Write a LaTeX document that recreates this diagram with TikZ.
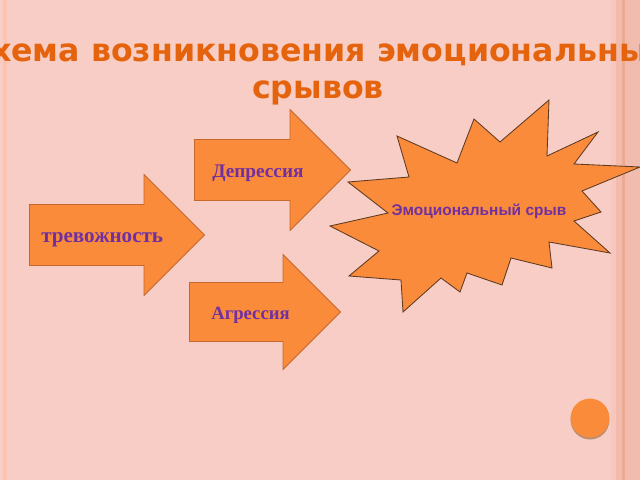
\documentclass[tikz,border=0pt]{standalone}
\usepackage{fontspec}
\setmainfont{Liberation Serif}
\newfontfamily\headfont{DejaVu Sans}
\newfontfamily\burstfont{Liberation Sans}
\usepackage{tikz}
\usepackage{xcolor}
\usetikzlibrary{shapes.arrows, positioning, shadows}

\definecolor{slide}{HTML}{F7CDC5}
\definecolor{stripelight}{HTML}{FDC3AE}
\definecolor{stripepale}{HTML}{F8C6BC}
\definecolor{stripemid}{HTML}{F1BCAD}
\definecolor{stripedark}{HTML}{EDAA92}
\definecolor{flame}{HTML}{FA8B3B}
\definecolor{arrowline}{HTML}{C4682E}
\definecolor{burstline}{HTML}{5E3A22}
\definecolor{headorange}{HTML}{E4630C}
\definecolor{labelpurple}{HTML}{7030A0}

\begin{document}
\begin{tikzpicture}[x=0.025cm, y=-0.025cm,
    blockarrow/.style={single arrow, draw=arrowline, fill=flame, line width=0.6pt,
        inner xsep=0pt, anchor=tail, text height=0pt, text depth=0pt},
    arrowtext/.style={font=\bfseries\fontsize{14}{16}\selectfont, text=labelpurple, inner sep=0pt, anchor=base west},
    bursttext/.style={font=\burstfont\bfseries\fontsize{11}{13}\selectfont, text=labelpurple},
    headline/.style={font=\headfont\bfseries\fontsize{22.5}{27}\selectfont, text=headorange, anchor=base}]
    \useasboundingbox (0,0) rectangle (640,480);
    \clip (0,0) rectangle (640,480);

    % Background
    \fill[slide] (0,0) rectangle (640,480);
    \fill[stripelight] (3,0) rectangle (7,480);
    \fill[stripepale] (611,0) rectangle (616,480);
    \fill[stripemid] (616,0) rectangle (622,480);
    \fill[stripedark] (622,0) rectangle (625,480);
    \fill[stripemid] (625,0) rectangle (640,480);

    % Title
    \node[headline] (title) at (318,62) {Схема возникновения эмоциональных};
    \node[headline] (titletail) at (318,98) {срывов};

    % Arrows
    \node[blockarrow, minimum height=4.375cm, inner ysep=0.75cm, single arrow head extend=0.75cm] (trevoga) at (29,235) {};
    \node[blockarrow, minimum height=3.9cm, inner ysep=0.75cm, single arrow head extend=0.75cm] (depressia) at (194,170) {};
    \node[blockarrow, minimum height=3.775cm, inner ysep=0.725cm, single arrow head extend=0.7cm] (agressia) at (189,312) {};

    \node[arrowtext, font=\bfseries\fontsize{15}{17}\selectfont] (trevogatext) at (41,242) {тревожность};
    \node[arrowtext, font=\bfseries\fontsize{13.7}{16}\selectfont] (depressiatext) at (212,177) {Депрессия};
    \node[arrowtext, font=\bfseries\fontsize{13.3}{16}\selectfont] (agressiatext) at (211,319) {Агрессия};

    % Burst
    \draw[fill=flame, draw=burstline, line width=0.6pt]
        (549,100) -- (547,156) -- (598,132) -- (574,164) -- (640,167) -- (582,191)
        -- (601,212) -- (574,221) -- (610,253) -- (549,242) -- (552,268) -- (511,258)
        -- (502,285) -- (467,273) -- (460,292) -- (441,278) -- (403,312) -- (401,280)
        -- (349,276) -- (379,251) -- (330,226) -- (388,213) -- (348,182) -- (409,177)
        -- (397,136) -- (457,163) -- (474,119) -- (500,142) -- cycle;
    \node[bursttext] (sryv) at (479,211) {Эмоциональный срыв};

    % Button
    \node[circle, fill=flame, minimum size=0.97cm, inner sep=0pt,
        drop shadow={shadow xshift=0pt, shadow yshift=-1.5pt, fill=brown!80!black, opacity=0.6}] (dot) at (590,418) {};
\end{tikzpicture}
\end{document}
